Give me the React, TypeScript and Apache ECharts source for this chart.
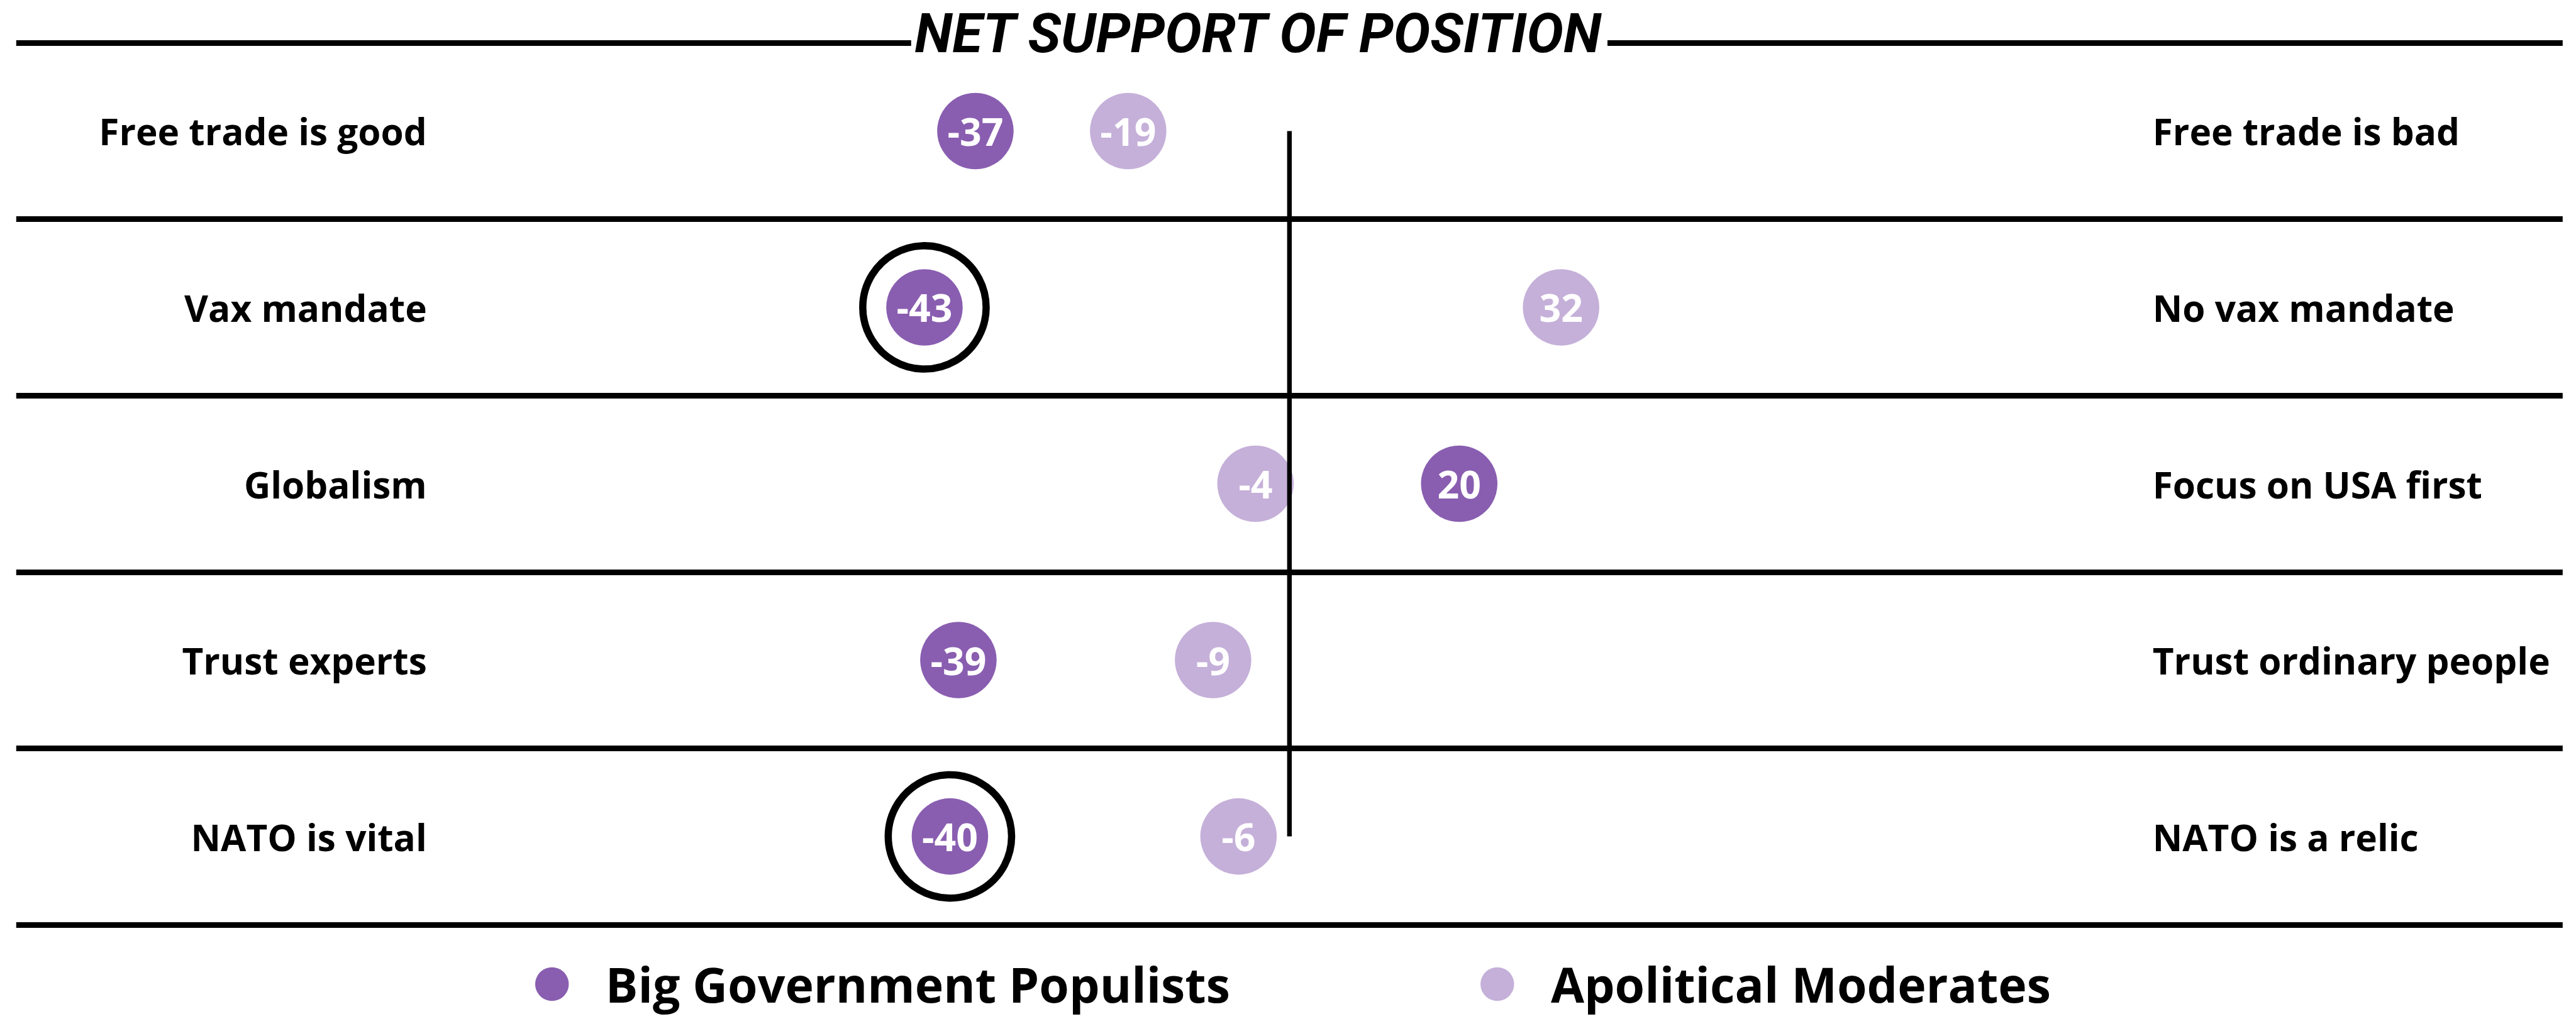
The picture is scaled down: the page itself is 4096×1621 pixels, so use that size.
import React, { useEffect, useRef } from "react";
import * as echarts from "echarts";

const S = 0.921;

const leftLabels = ["Free trade is good", "Vax mandate", "Globalism", "Trust experts", "NATO is vital"];
const rightLabels = ["Free trade is bad", "No vax mandate", "Focus on USA first", "Trust ordinary people", "NATO is a relic"];
const populists = [-37, -43, 20, -39, -40];
const moderates = [-19, 32, -4, -9, -6];
const highlighted = ["Vax mandate", "NATO is vital"];
const seriesNames = ["Big Government Populists", "Apolitical Moderates"];
const titleText = "NET SUPPORT OF POSITION";

const DARK = "#895EB0";
const LIGHT = "#C5B0D9";
const FONT = "Open Sans";

export default function App() {
  const ref = useRef<HTMLDivElement>(null);
  useEffect(() => {
    document.body.style.margin = "0";
    const chart = echarts.init(ref.current!, null, { renderer: "svg" });
    const popData = leftLabels.map((c, i) => [populists[i], c]);
    const modData = leftLabels.map((c, i) => [moderates[i], c]);
    const ringData = leftLabels
      .map((c, i) => [populists[i], c])
      .filter((d) => highlighted.includes(d[1] as string));
    const bubbleLabel = {
      show: true,
      position: "inside",
      color: "#fff",
      fontFamily: FONT,
      fontWeight: "bold",
      fontSize: 66 * S,
      formatter: (p: any) => String(p.value[0]),
    };
    const legendText = {
      fontFamily: FONT,
      fontWeight: "bold",
      fontSize: 83.5 * S,
      lineHeight: 70 * S,
      color: "#000",
      padding: [0, 0, 0, 58 * S],
    };
    const rowLabel = {
      inside: true,
      fontFamily: FONT,
      fontWeight: "bold",
      fontSize: 63.5 * S,
      color: "#000",
    };
    chart.setOption({
      animation: false,
      backgroundColor: "#fff",
      title: {
        text: titleText,
        left: 1573 * S,
        top: 25 * S,
        padding: [0, 6 * S],
        backgroundColor: "#fff",
        textStyle: {
          fontFamily: "Roboto",
          fontWeight: "bold",
          fontStyle: "italic",
          fontSize: 95 * S,
          lineHeight: 66 * S,
          color: "#000",
        },
      },
      legend: [
        {
          data: [seriesNames[0]],
          left: 924 * S,
          top: 1527,
          icon: "circle",
          itemWidth: 58 * S,
          itemHeight: 58 * S,
          padding: 0,
          textStyle: legendText,
        },
        {
          data: [seriesNames[1]],
          left: 2556 * S,
          top: 1527,
          icon: "circle",
          itemWidth: 58 * S,
          itemHeight: 58 * S,
          padding: 0,
          textStyle: legendText,
        },
      ],
      grid: { left: 28 * S, right: 23 * S, top: 74 * S, bottom: 163 * S, containLabel: false },
      xAxis: {
        type: "value",
        min: -150,
        max: 150,
        show: false,
      },
      yAxis: [
        {
          type: "category",
          data: leftLabels,
          inverse: true,
          position: "left",
          axisLine: { show: false },
          axisTick: { show: false },
          splitLine: { show: true, lineStyle: { color: "#000", width: 10 * S } },
          axisLabel: { ...rowLabel, align: "right", margin: 709 * S },
        },
        {
          type: "category",
          data: rightLabels,
          inverse: true,
          position: "right",
          axisLine: { show: false },
          axisTick: { show: false },
          splitLine: { show: false },
          axisLabel: { ...rowLabel, align: "left", margin: 708 * S },
        },
      ],
      series: [
        {
          name: seriesNames[0],
          type: "scatter",
          yAxisIndex: 0,
          data: popData,
          symbolSize: 132 * S,
          itemStyle: { color: DARK, opacity: 1 },
          label: bubbleLabel,
          z: 2,
        },
        {
          name: seriesNames[1],
          type: "scatter",
          yAxisIndex: 0,
          data: modData,
          symbolSize: 132 * S,
          itemStyle: { color: LIGHT, opacity: 1 },
          label: bubbleLabel,
          z: 2,
        },
        {
          name: "highlight",
          type: "scatter",
          yAxisIndex: 0,
          data: ringData,
          symbolSize: 213 * S,
          itemStyle: { color: "rgba(0,0,0,0)", borderColor: "#000", borderWidth: 12.5 * S, opacity: 1 },
          silent: true,
          z: 2,
        },
        {
          name: "zero",
          type: "line",
          yAxisIndex: 0,
          data: [
            [0, leftLabels[0]],
            [0, leftLabels[leftLabels.length - 1]],
          ],
          symbol: "none",
          lineStyle: { color: "#000", width: 8 * S },
          silent: true,
          z: 5,
        },
      ],
    });
    return () => chart.dispose();
  }, []);
  return <div ref={ref} style={{ width: 4096, height: 1621 }} />;
}
